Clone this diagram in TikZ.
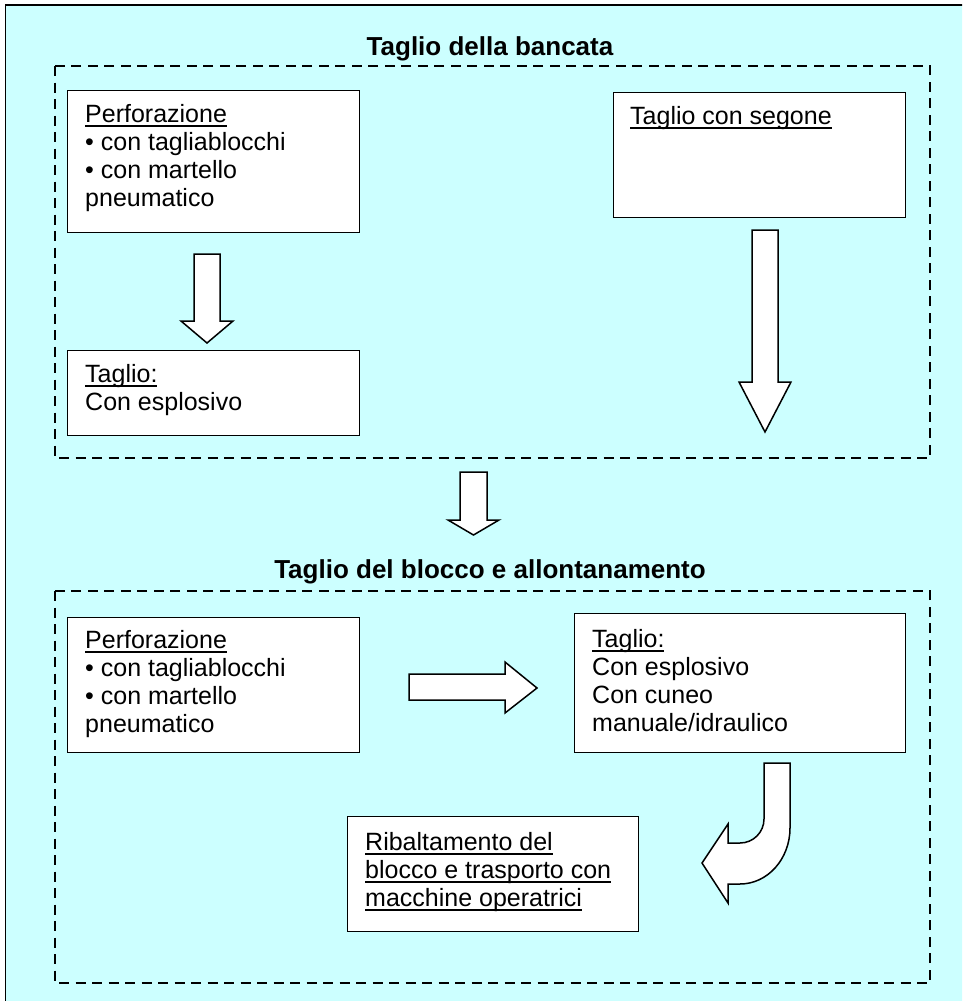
\documentclass[tikz,border=0pt]{standalone}
\usepackage{fontspec}
\setmainfont{Liberation Sans}
\usetikzlibrary{positioning}
\tikzset{x=1pt,y=-1pt}

\newsavebox\ulbox
\newcommand\ulined[1]{\sbox\ulbox{#1}\rlap{\rule[-5pt]{\wd\ulbox}{1.8pt}}\usebox\ulbox}

\begin{document}
\begin{tikzpicture}
% Style
[
    line join=miter,
    box line/.style={draw=black, fill=white, line width=1.4pt, inner sep=0pt, anchor=north west},
    % base west of a multi-line text is the baseline of its last line
    box text/.style={inner sep=0pt, align=left, anchor=base west, font=\fontsize{25}{28}\selectfont},
    title text/.style={inner sep=0pt, anchor=base, font=\bfseries\fontsize{26}{30}\selectfont},
    dashed frame/.style={line width=2.2pt, dash pattern=on 10pt off 6.5pt},
    block arrow/.style={draw=black, fill=white, line width=1.5pt}
]

% Define: Colors
\definecolor{sky_cyan}{RGB}{204,255,255}
\colorlet{sheet_fill}{sky_cyan}

%================================== Prepare ==================================
% #1 centre x, #2 top y, #3 shaft half width, #4 head half width, #5 head base y, #6 tip y
\def\blockdown#1#2#3#4#5#6{
    \filldraw [block arrow] {
        (#1-#3,#2) -- (#1+#3,#2) -- (#1+#3,#5) -- (#1+#4,#5) --
        (#1,#6) -- (#1-#4,#5) -- (#1-#3,#5) -- cycle
    };
}

%=================================== Start ===================================
{
    \useasboundingbox (0,0) rectangle (962,1001);
    \clip (0,0) rectangle (962,1001);

    % Draw: Sheet
    \fill [sheet_fill] (5.5,5) rectangle (980,1020);
    \draw [line width=1.5pt] (5.5,1020) -- (5.5,5) -- (980,5);

    % Draw: Taglio della bancata
    \draw [dashed frame] (55,66) rectangle (930,458);
    \node [title text] (title_bancata) at (490,55) {Taglio della bancata};

    \node [box line, minimum width=292, minimum height=142] (perf_a) at (67,90) {};
    \node [box text] (perf_a_text) at ([shift={(18,116)}]perf_a.north west)
        {\ulined{Perforazione}\\• con tagliablocchi\\• con martello\\pneumatico};

    \node [box line, minimum width=292, minimum height=125] (segone) at (613,92) {};
    \node [box text] (segone_text) at ([shift={(17,32)}]segone.north west)
        {\ulined{Taglio con segone}};

    \node [box line, minimum width=292, minimum height=85] (espl_a) at (67,350) {};
    \node [box text] (espl_a_text) at ([shift={(18,60)}]espl_a.north west)
        {\ulined{Taglio:}\\Con esplosivo};

    \blockdown{207}{254}{13}{26}{321}{343}
    \blockdown{765}{230}{13}{26}{382}{432}

    % Draw: between the two phases
    \blockdown{473.5}{472}{13.5}{25.5}{520}{535}

    % Draw: Taglio del blocco e allontanamento
    \draw [dashed frame] (55,591) rectangle (930,983);
    \node [title text] (title_blocco) at (490,578) {Taglio del blocco e allontanamento};

    \node [box line, minimum width=292, minimum height=135] (perf_b) at (67,617) {};
    \node [box text] (perf_b_text) at ([shift={(18,115)}]perf_b.north west)
        {\ulined{Perforazione}\\• con tagliablocchi\\• con martello\\pneumatico};

    \node [box line, minimum width=331, minimum height=139] (taglio_b) at (574,613) {};
    \node [box text] (taglio_b_text) at ([shift={(18,118)}]taglio_b.north west)
        {\ulined{Taglio:}\\Con esplosivo\\Con cuneo\\manuale/idraulico};

    \node [box line, minimum width=291, minimum height=115] (ribalt) at (347,816) {};
    \node [box text] (ribalt_text) at ([shift={(18,90)}]ribalt.north west)
        {\ulined{Ribaltamento del}\\\ulined{blocco e trasporto con}\\\ulined{macchine operatrici}};

    % Draw: right arrow
    \filldraw [block arrow] {
        (409,674) -- (505,674) -- (505,662) -- (537,688) --
        (505,713) -- (505,700) -- (409,700) -- cycle
    };

    % Draw: curved arrow
    \filldraw [block arrow] {
        (764,763) -- (790,763) -- (790,828)
        arc [start angle=0, end angle=90, x radius=50, y radius=56]
        -- (728,884) -- (728,903) -- (702,863) -- (728,824) -- (728,843) -- (740,843)
        arc [start angle=90, end angle=0, radius=24] -- cycle
    };
}
%==================================== END ====================================
\end{tikzpicture}
\end{document}
